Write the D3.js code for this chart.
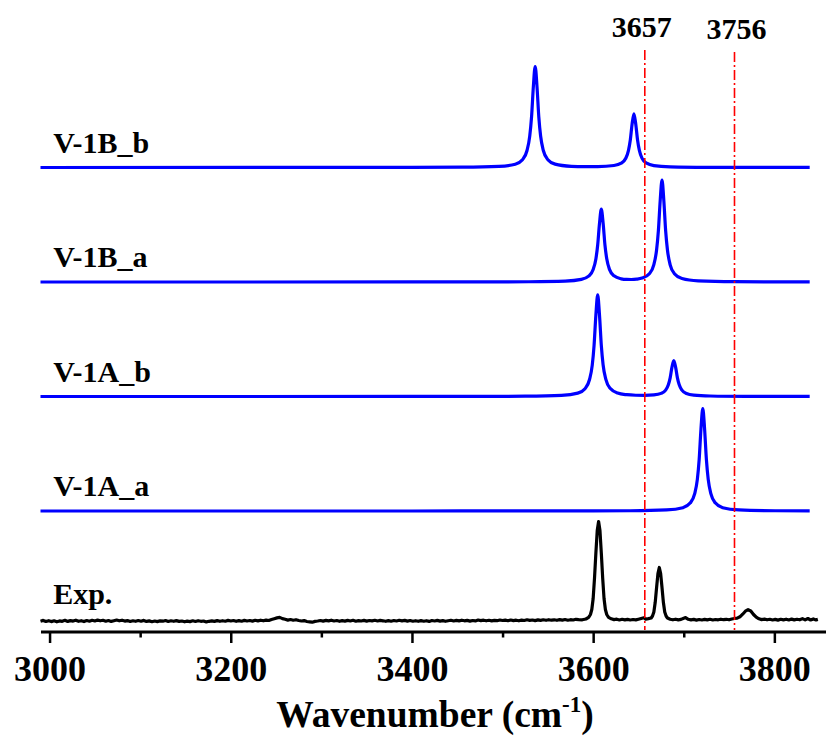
<!DOCTYPE html>
<html>
<head>
<meta charset="utf-8">
<script src="https://cdn.jsdelivr.net/npm/d3@7"></script>
<style>
  html, body { margin: 0; padding: 0; background: #fff; }
  svg { display: block; }
  text { font-family: "Liberation Serif", "Times New Roman", serif; font-weight: bold; fill: #000; }
</style>
</head>
<body>
<svg id="chart" width="826" height="736"></svg>
<script>
// ---- Spectra: [wavenumber (cm^-1), intensity (a.u.)] ----
const seriesNames = ["V-1B_b", "V-1B_a", "V-1A_b", "V-1A_a", "Exp."];
const seriesOffsets = [451.5, 337, 222.5, 108, 0];

const v1Bb = [[2990,0.01],[3300,0.03],[3400,0.1],[3456,0.28],[3496,1.05],[3514,3.33],[3522,7.8],[3527,17.0],[3530,31.4],[3532,50.6],[3534,81.0],[3536,101.0],[3538,81.0],[3540,50.7],[3542,31.5],[3545,17.0],[3550,7.84],[3558,3.4],[3576,1.19],[3590,0.84],[3605,0.88],[3623,1.98],[3631,4.34],[3636,9.25],[3639,17.1],[3641,27.5],[3643,43.5],[3645,53.7],[3647,43.5],[3649,27.5],[3651,17.1],[3654,9.2],[3659,4.3],[3667,1.88],[3685,0.63],[3725,0.19],[3839,0.04]];

const v1Ba = [[2990,0],[3400,0.05],[3500,0.15],[3529,0.26],[3569,0.87],[3587,2.58],[3595,5.84],[3600,12.5],[3603,23.1],[3605,37.0],[3607,58.6],[3609,72.8],[3611,58.9],[3613,37.1],[3615,23.2],[3618,12.6],[3623,6.2],[3631,3.18],[3637,2.55],[3642,2.49],[3648,2.83],[3654,3.88],[3662,8.2],[3667,17.4],[3670,32.0],[3672,51.4],[3674,81.5],[3676,101.8],[3678,81.5],[3680,51.4],[3682,32.0],[3685,17.2],[3690,8.0],[3698,3.47],[3716,1.14],[3756,0.31],[3839,0.08]];

const v1Ab = [[2990,0],[3400,0.04],[3500,0.17],[3525,0.28],[3565,1.06],[3583,3.35],[3591,7.84],[3596,17.0],[3599,31.4],[3601,51.0],[3603,81.3],[3605,101.6],[3607,81.3],[3609,51.1],[3611,31.5],[3614,17.1],[3619,7.9],[3627,3.45],[3637,1.8],[3647,1.26],[3657,1.18],[3667,1.61],[3675,3.13],[3680,6.4],[3683,11.7],[3685,18.6],[3687,29.4],[3689,36.0],[3691,29.4],[3693,18.6],[3695,11.65],[3698,6.34],[3703,3.0],[3711,1.37],[3729,0.5],[3769,0.15],[3839,0.05]];

const v1Aa = [[2990,0],[3400,0.02],[3500,0.05],[3600,0.12],[3641,0.26],[3681,1.03],[3699,3.3],[3707,7.9],[3712,17.1],[3715,31.6],[3717,51.3],[3719,82.0],[3721,102.5],[3723,82.0],[3725,51.3],[3727,31.6],[3730,17.1],[3735,7.9],[3743,3.3],[3761,1.03],[3801,0.26],[3839,0.12]];

const expSpectrum = [[2990,-2.2],[2993,-1.4],[2996,-2.5],[2999,-1.7],[3002,-2.6],[3005,-1.8],[3008,-2.8],[3011,-1.9],[3014,-2.3],[3017,-1.3],[3020,-2.4],[3023,-1.6],[3026,-2.1],[3029,-1.2],[3032,-2.3],[3035,-1.7],[3038,-2.6],[3041,-1.5],[3044,-2.2],[3047,-1.3],[3050,-2.0],[3053,-1.1],[3056,-1.8],[3059,-1.3],[3062,-2.2],[3065,-1.5],[3068,-2.4],[3071,-1.7],[3074,-1.0],[3077,-1.8],[3080,-1.2],[3083,-2.1],[3086,-1.6],[3089,-2.5],[3092,-1.8],[3095,-2.3],[3098,-1.5],[3101,-2.2],[3104,-1.4],[3107,-2.4],[3110,-1.9],[3113,-2.7],[3116,-2.0],[3119,-2.6],[3122,-1.8],[3125,-2.2],[3128,-1.5],[3131,-2.5],[3134,-1.8],[3137,-2.3],[3140,-1.6],[3143,-2.4],[3146,-2.0],[3149,-2.8],[3152,-2.1],[3155,-2.6],[3158,-1.8],[3161,-2.5],[3164,-1.7],[3167,-2.3],[3170,-2.0],[3173,-2.9],[3176,-2.3],[3179,-1.9],[3182,-2.4],[3185,-1.6],[3188,-2.3],[3191,-1.7],[3194,-2.2],[3197,-1.4],[3200,-2.0],[3203,-1.5],[3206,-2.3],[3209,-1.6],[3212,-2.2],[3215,-1.4],[3218,-2.0],[3221,-1.5],[3224,-2.1],[3227,-1.3],[3230,-1.9],[3233,-1.2],[3236,-1.8],[3239,-1.1],[3242,-1.5],[3245,-0.5],[3248,0.3],[3251,1.1],[3254,1.6],[3257,0.4],[3260,-0.3],[3263,-1.1],[3266,-0.5],[3269,-1.2],[3272,-0.7],[3275,-1.5],[3278,-2.0],[3281,-1.6],[3284,-2.5],[3287,-2.8],[3290,-3.2],[3293,-2.4],[3296,-2.0],[3299,-1.5],[3302,-2.1],[3305,-1.4],[3308,-1.9],[3311,-1.2],[3314,-2.0],[3317,-1.5],[3320,-2.3],[3323,-1.6],[3326,-2.1],[3329,-1.4],[3332,-2.0],[3335,-1.3],[3338,-2.2],[3341,-1.6],[3344,-2.0],[3347,-1.4],[3350,-2.1],[3353,-1.5],[3356,-1.9],[3359,-1.3],[3362,-2.0],[3365,-1.4],[3368,-1.8],[3371,-2.3],[3374,-1.6],[3377,-2.2],[3380,-1.5],[3383,-2.0],[3386,-1.3],[3389,-1.9],[3392,-1.4],[3395,-2.1],[3398,-1.5],[3401,-2.2],[3404,-1.7],[3407,-2.3],[3410,-1.6],[3413,-2.2],[3416,-1.7],[3419,-2.4],[3422,-1.5],[3425,-2.0],[3428,-1.4],[3431,-2.1],[3434,-1.6],[3437,-2.3],[3440,-1.8],[3443,-1.3],[3446,-2.0],[3449,-1.4],[3452,-1.9],[3455,-1.2],[3458,-1.8],[3461,-1.4],[3464,-2.1],[3467,-1.5],[3470,-1.9],[3473,-1.0],[3476,-1.6],[3479,-1.2],[3482,-1.8],[3485,-1.3],[3488,-1.9],[3491,-1.4],[3494,-1.7],[3497,-1.0],[3500,-1.5],[3503,-1.1],[3506,-1.7],[3509,-1.0],[3512,-1.6],[3515,-1.2],[3518,-1.8],[3521,-1.1],[3524,-1.5],[3527,-0.8],[3530,-1.4],[3533,-1.0],[3536,-1.6],[3539,-0.9],[3542,-1.4],[3545,-0.8],[3548,-1.3],[3551,-0.7],[3554,-1.2],[3557,-0.8],[3560,-1.3],[3563,-0.6],[3566,-1.1],[3569,-0.5],[3572,-1.2],[3575,-0.7],[3578,-1.0],[3581,-0.3],[3584,-0.6],[3588,-0.8],[3592,0.0],[3595,1.6],[3597,4.5],[3598.5,9.5],[3600,20.5],[3601.5,41.0],[3603,66.0],[3604.5,88.5],[3606,97.5],[3607.5,88.5],[3609,66.0],[3610.5,41.0],[3612,20.5],[3613.5,9.5],[3615,4.5],[3617,1.6],[3620,0.2],[3623,-0.6],[3626,-0.2],[3629,-1.0],[3632,-0.3],[3635,-0.9],[3638,-0.4],[3641,-1.0],[3644,-0.5],[3647,-0.9],[3650,-0.2],[3653,0.5],[3656,1.2],[3658,-0.1],[3661,0.4],[3664,1.0],[3665.5,3.0],[3667,7.0],[3668.5,16.7],[3670,31.3],[3671.5,45.4],[3673,51.5],[3674.5,45.4],[3676,31.3],[3677.5,16.7],[3679,7.0],[3680.5,3.0],[3682,1.0],[3685,-0.2],[3688,-0.8],[3691,-0.2],[3694,-0.9],[3697,-0.4],[3700,0.8],[3702,1.4],[3705,-0.3],[3708,-0.9],[3711,-0.4],[3714,-1.1],[3717,-0.5],[3720,-1.0],[3723,-0.4],[3726,-0.9],[3729,-0.3],[3732,-1.0],[3735,-0.5],[3738,-0.8],[3741,-0.2],[3744,-0.7],[3747,-0.3],[3750,-0.8],[3753,0.0],[3756,0.5],[3759,0.9],[3762,2.2],[3765,4.8],[3768,7.8],[3771,9.3],[3774,8.0],[3777,4.5],[3780,1.8],[3783,0.2],[3786,-0.6],[3789,-0.1],[3792,-0.8],[3795,-0.3],[3798,-1.0],[3801,-0.4],[3804,-1.1],[3807,-0.3],[3810,-0.9],[3813,-0.2],[3816,-1.0],[3819,-0.1],[3822,-0.9],[3825,-0.3],[3828,-0.8],[3831,0.4],[3834,-0.9],[3837,0.5],[3840,-1.0],[3843,0.1],[3846,-0.9],[3848,-0.4]];

const seriesData = [v1Bb, v1Ba, v1Ab, v1Aa, expSpectrum];
const seriesColors = ["#0000ff", "#0000ff", "#0000ff", "#0000ff", "#000000"];

// Reference bands marked with dash-dot lines
const markerWavenumbers = [3657, 3756];
const markerLabels = ["3657", "3756"];

// Axis ticks
const majorTicks = [3000, 3200, 3400, 3600, 3800];
const minorTicks = [3100, 3300, 3500, 3700];

// ---- Layout ----
const width = 826, height = 736;
const axisY = 631.5;

const svg = d3.select("#chart");
svg.append("rect").attr("width", width).attr("height", height).attr("fill", "#fff");

const x = d3.scaleLinear().domain([2990, 3857]).range([40.5, 826]);
const y = d3.scaleLinear().domain([0, 100]).range([619, 519]);

// ---- Spectra ----
const smoothLine = d3.line().x(d => x(d[0])).y(d => d[1]).curve(d3.curveMonotoneX);
const rawLine = d3.line().x(d => x(d[0])).y(d => d[1]);

seriesData.forEach((data, i) => {
  const off = seriesOffsets[i];
  const isExp = i === 4;
  svg.append("path")
    .datum(data.map(d => [d[0], y(d[1] + off)]))
    .attr("fill", "none")
    .attr("stroke", seriesColors[i])
    .attr("stroke-width", isExp ? 3.2 : 3.2)
    .attr("stroke-linejoin", "round")
    .attr("d", isExp ? rawLine : smoothLine);

  svg.append("text")
    .attr("x", x(3004))
    .attr("y", y(off) - 15)
    .attr("font-size", 30)
    .text(seriesNames[i]);
});

// ---- Marker lines and labels ----
markerWavenumbers.forEach((wn, i) => {
  svg.append("line")
    .attr("x1", x(wn)).attr("x2", x(wn))
    .attr("y1", i === 0 ? 50 : 52)
    .attr("y2", axisY - 1.5)
    .attr("stroke", "#ff0000")
    .attr("stroke-width", 1.6)
    .attr("stroke-dasharray", "10,3,2,3");

  svg.append("text")
    .attr("x", x(wn) + (i === 0 ? -3 : 2))
    .attr("y", i === 0 ? 37 : 39)
    .attr("text-anchor", "middle")
    .attr("font-size", 30)
    .text(markerLabels[i]);
});

// ---- X axis ----
const axisG = svg.append("g").attr("transform", `translate(0,${axisY})`);

axisG.append("g")
  .call(d3.axisBottom(x).tickValues(minorTicks).tickSize(6).tickSizeOuter(0).tickFormat(""))
  .call(g => g.select(".domain").remove())
  .call(g => g.selectAll(".tick line").attr("stroke", "#000").attr("stroke-width", 2.5));

axisG.append("g")
  .call(d3.axisBottom(x).tickValues(majorTicks).tickSize(11.5).tickSizeOuter(0).tickFormat(d3.format("d")))
  .call(g => g.select(".domain").attr("stroke", "#000").attr("stroke-width", 3))
  .call(g => g.selectAll(".tick line").attr("stroke", "#000").attr("stroke-width", 2.5))
  .call(g => g.selectAll(".tick text")
    .attr("y", 49.5).attr("dy", 0)
    .attr("font-family", "'Liberation Serif', 'Times New Roman', serif")
    .attr("font-weight", "bold")
    .attr("font-size", 36)
    .attr("fill", "#000"));

// Axis title with superscript
const title = svg.append("text")
  .attr("x", 435)
  .attr("y", 727)
  .attr("text-anchor", "middle")
  .attr("font-size", 37.5);
title.append("tspan").text("Wavenumber (cm");
title.append("tspan").attr("font-size", 23).attr("dy", -15).text("-1");
title.append("tspan").attr("dy", 15).text(")");
</script>
</body>
</html>
